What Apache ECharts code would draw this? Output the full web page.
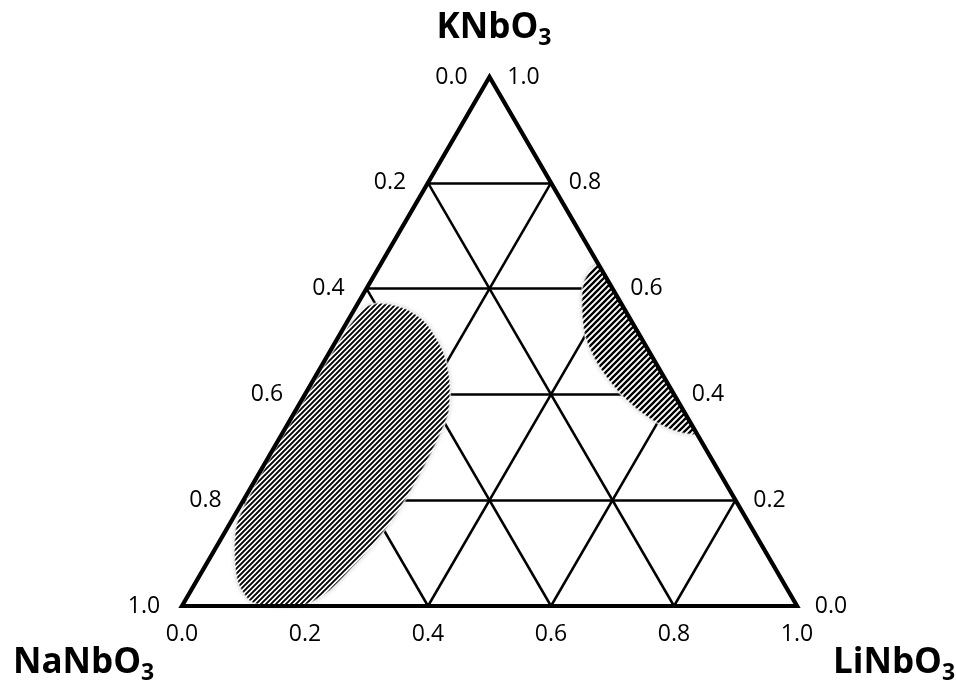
<!DOCTYPE html>
<html>
<head>
<meta charset="utf-8">
<script src="https://cdn.jsdelivr.net/npm/echarts@6/dist/echarts.min.js"></script>
<style>
html, body { margin: 0; padding: 0; background: #fff; }
#chart { width: 956px; height: 686px; }
</style>
</head>
<body>
<div id="chart"></div>
<script>
// tick values on each side of the triangle
const ticks = [0, 0.2, 0.4, 0.6, 0.8, 1.0];
const gridSteps = [0.2, 0.4, 0.6, 0.8];

// hatched regions as [LiNbO3, KNbO3] fractions, NaNbO3 is the rest
const leftRegion = [
    [0.036, 0.573], [0.081, 0.563], [0.127, 0.537], [0.182, 0.484], [0.222, 0.427],
    [0.251, 0.365], [0.260, 0.301], [0.263, 0.238], [0.262, 0.176], [0.255, 0.125],
    [0.241, 0.074], [0.226, 0.030], [0.199, 0.002], [0.143, 0.000], [0.106, 0.009],
    [0.068, 0.045], [0.034, 0.102], [0.010, 0.159], [0.004, 0.250], [0.004, 0.400],
    [0.006, 0.520], [0.015, 0.565]
];
const rightRegion = [
    [0.351, 0.647], [0.347, 0.611], [0.370, 0.560], [0.401, 0.509], [0.445, 0.459],
    [0.503, 0.408], [0.555, 0.371], [0.599, 0.346], [0.641, 0.329], [0.672, 0.326],
    [0.600, 0.400], [0.500, 0.500], [0.400, 0.600]
];

const H = Math.sqrt(3) / 2;
// ternary (Li, K) -> cartesian
const toXY = p => [p[0] + p[1] / 2, p[1] * H];

const makeHatch = (w, h, lw) => {
    const c = document.createElement('canvas');
    c.width = w;
    c.height = h;
    const ctx = c.getContext('2d');
    ctx.fillStyle = '#fff';
    ctx.fillRect(0, 0, w, h);
    ctx.strokeStyle = '#000';
    ctx.lineWidth = lw;
    ctx.beginPath();
    for (let k = -1; k <= 1; k++) {
        ctx.moveTo(k * w - w * 0.5, h * 1.5);
        ctx.lineTo(k * w + w * 1.5, -h * 0.5);
    }
    ctx.stroke();
    return c;
};
const hatches = [makeHatch(5, 5, 1.9), makeHatch(6, 6, 2.3)];
const regions = [leftRegion, rightRegion];

// grid lines parallel to each side
const gridLines = [];
gridSteps.forEach(f => {
    gridLines.push({ coords: [toXY([0, f]), toXY([1 - f, f])] });
    gridLines.push({ coords: [toXY([f, 0]), toXY([f, 1 - f])] });
    gridLines.push({ coords: [toXY([1 - f, 0]), toXY([0, 1 - f])] });
});

const tickSeries = (points, offset) => ({
    type: 'scatter',
    symbolSize: 1,
    itemStyle: { color: 'rgba(0,0,0,0)', opacity: 1 },
    z: 5,
    silent: true,
    data: points,
    label: {
        show: true,
        position: 'inside',
        offset: offset,
        fontFamily: 'Open Sans',
        fontSize: 23,
        color: '#000',
        formatter: p => p.value[2].toFixed(1)
    }
});

const titleRich = {
    a: { fontFamily: 'Open Sans', fontWeight: 'bold', fontSize: 35, lineHeight: 36, verticalAlign: 'top', color: '#000' },
    s: { fontFamily: 'Open Sans', fontWeight: 'bold', fontSize: 23, lineHeight: 24, verticalAlign: 'top', padding: [16, 0, 0, 0], color: '#000' }
};

const chart = echarts.init(document.getElementById('chart'));
chart.setOption({
    animation: false,
    title: [
        { text: '{a|KNbO}{s|3}', left: 489, top: 6, textAlign: 'center', textStyle: { rich: titleRich } },
        { text: '{a|NaNbO}{s|3}', left: 8, top: 641, textStyle: { rich: titleRich } },
        { text: '{a|LiNbO}{s|3}', left: 828, top: 641, textStyle: { rich: titleRich } }
    ],
    grid: { left: 182, top: 77, width: 615, height: 529 },
    xAxis: { type: 'value', min: 0, max: 1, show: false },
    yAxis: { type: 'value', min: 0, max: H, show: false },
    series: [
        {
            type: 'lines',
            coordinateSystem: 'cartesian2d',
            z: 1,
            silent: true,
            lineStyle: { color: '#000', width: 2.5, opacity: 1 },
            data: gridLines
        },
        {
            type: 'custom',
            z: 2,
            silent: true,
            data: [0, 1],
            renderItem: (params, api) => {
                const pts = regions[params.dataIndex].map(p => api.coord(toXY(p)));
                return {
                    type: 'group',
                    children: [
                        {
                            type: 'polygon',
                            shape: { points: pts, smooth: 0.25 },
                            style: { fill: '#fff', stroke: 'rgba(255,255,255,0)', shadowBlur: 4, shadowColor: 'rgba(0,0,0,0.25)' }
                        },
                        {
                            type: 'polygon',
                            shape: { points: pts, smooth: 0.25 },
                            style: { fill: { image: hatches[params.dataIndex], repeat: 'repeat' }, stroke: 'rgba(255,255,255,0.5)', lineWidth: 2 }
                        }
                    ]
                };
            }
        },
        {
            type: 'custom',
            z: 3,
            silent: true,
            data: [0],
            renderItem: (params, api) => ({
                type: 'polygon',
                shape: { points: [toXY([0, 0]), toXY([1, 0]), toXY([0, 1])].map(p => api.coord(p)) },
                style: { fill: 'none', stroke: '#000', lineWidth: 4.2, lineJoin: 'miter', miterLimit: 10 }
            })
        },
        // NaNbO3 axis (left side)
        tickSeries(ticks.map(t => toXY([0, 1 - t]).concat(t)), [-38, 0]),
        // KNbO3 axis (right side)
        tickSeries(ticks.map(t => toXY([1 - t, t]).concat(t)), [34, 0]),
        // LiNbO3 axis (bottom)
        tickSeries(ticks.map(t => toXY([t, 0]).concat(t)), [0, 28])
    ]
});
</script>
</body>
</html>
